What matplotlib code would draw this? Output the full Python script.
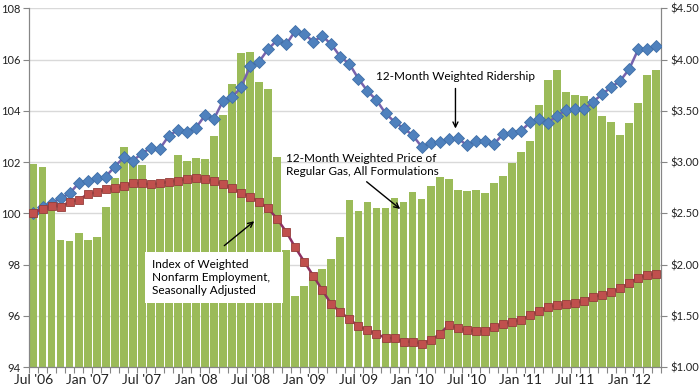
import numpy as np
import matplotlib.pyplot as plt
from matplotlib.patches import Rectangle

plt.rcParams['font.family'] = ['Lato', 'DejaVu Sans']

# monthly data, Jul 2006 .. Apr 2012
gas_price = [2.98, 2.95, 2.60, 2.24, 2.23, 2.31, 2.24, 2.27, 2.56, 2.84, 3.15, 3.03,
             2.97, 2.78, 2.78, 2.78, 3.07, 3.01, 3.04, 3.03, 3.25, 3.46, 3.76, 4.06,
             4.07, 3.78, 3.71, 3.05, 2.14, 1.69, 1.79, 1.88, 1.96, 2.05, 2.27, 2.63,
             2.52, 2.61, 2.55, 2.55, 2.65, 2.61, 2.71, 2.64, 2.77, 2.85, 2.83, 2.73,
             2.72, 2.73, 2.70, 2.80, 2.86, 2.99, 3.10, 3.21, 3.56, 3.80, 3.90, 3.68,
             3.65, 3.64, 3.62, 3.45, 3.39, 3.26, 3.38, 3.58, 3.85, 3.90]

ridership = [100.02, 100.25, 100.41, 100.58, 100.78, 101.17, 101.26, 101.37, 101.43, 101.82, 102.18, 102.05,
             102.33, 102.56, 102.52, 103.03, 103.25, 103.16, 103.34, 103.82, 103.69, 104.39, 104.53, 104.92,
             105.74, 105.92, 106.41, 106.76, 106.59, 107.12, 107.00, 106.70, 106.92, 106.59, 106.11, 105.83,
             105.25, 104.77, 104.42, 103.90, 103.57, 103.32, 103.05, 102.60, 102.73, 102.79, 102.89, 102.95,
             102.65, 102.83, 102.83, 102.69, 103.09, 103.14, 103.21, 103.55, 103.67, 103.53, 103.81, 104.03,
             104.06, 104.06, 104.35, 104.65, 104.92, 105.17, 105.63, 106.40, 106.40, 106.53]

employment = [100.02, 100.17, 100.30, 100.26, 100.45, 100.52, 100.75, 100.82, 100.93, 100.97, 101.08, 101.17,
              101.17, 101.13, 101.17, 101.23, 101.27, 101.34, 101.36, 101.33, 101.26, 101.13, 100.97, 100.80,
              100.65, 100.45, 100.19, 99.78, 99.28, 98.67, 98.11, 97.56, 97.00, 96.45, 96.15, 95.87,
              95.60, 95.44, 95.29, 95.14, 95.12, 94.99, 94.99, 94.92, 95.05, 95.29, 95.64, 95.51,
              95.44, 95.40, 95.40, 95.57, 95.67, 95.77, 95.83, 96.03, 96.18, 96.33, 96.42, 96.45,
              96.50, 96.58, 96.75, 96.81, 96.92, 97.07, 97.29, 97.49, 97.59, 97.63]

tick_labels = ["Jul '06", "Jan '07", "Jul '07", "Jan '08", "Jul '08", "Jan '09",
               "Jul '09", "Jan '10", "Jul '10", "Jan '11", "Jul '11", "Jan '12"]

x = np.arange(len(gas_price))

fig = plt.figure(figsize=(7, 3.86), dpi=100)
ax = fig.add_axes([0.0414, 0.049, 0.9026, 0.9295])
ax2 = ax.twinx()
ax.set_zorder(ax2.get_zorder() + 1)
ax.patch.set_visible(False)

# bars on right axis
ax2.bar(x, gas_price, width=0.86, color='#9BBB59', zorder=2)
ax2.set_ylim(1.0, 4.5)
ax2.set_yticks(np.arange(1.0, 4.51, 0.5))
ax2.set_yticklabels(['$%.2f' % v for v in np.arange(1.0, 4.51, 0.5)])
ax2.yaxis.grid(True, color='#D9D9D9', lw=1)
ax2.set_axisbelow(True)

# lines on left axis
ax.plot(x, ridership, color='#7763AD', lw=1.8, marker='D', ms=6,
        mfc='#4F81BD', mec='#3F6FA8', mew=0.6, zorder=3)
ax.plot(x, employment, color='#8E2F62', lw=1.8, marker='s', ms=5.5,
        mfc='#C0504D', mec='#943E3B', mew=0.6, zorder=3)
ax.set_ylim(94, 108)
ax.set_yticks(np.arange(94, 108.1, 2))
ax.set_xlim(-0.5, len(x) - 0.5)

ax.set_xticks(np.arange(-0.5, len(x), 1))
ax.set_xticklabels([])
ax.set_xticks(np.arange(0, len(x), 6), minor=True)
ax.set_xticklabels(tick_labels, minor=True)
ax.tick_params(axis='x', which='major', length=4, color='#868686')
ax.tick_params(axis='x', which='minor', length=0, pad=5)

for a in (ax, ax2):
    for s in a.spines.values():
        s.set_color('#868686')
    a.spines['top'].set_visible(False)
    a.tick_params(labelsize=8, labelcolor='#222222', colors='#868686')
ax.tick_params(axis='y', length=4, labelcolor='#222222', pad=2)
ax2.tick_params(axis='y', length=4, labelcolor='#222222', pad=3)
ax.tick_params(axis='x', which='minor', labelcolor='#222222')

# annotations
arrow = dict(arrowstyle='->', color='black', lw=1, mutation_scale=9)
ax.text(46.7, 105.32, '12-Month Weighted Ridership', ha='center', va='center', fontsize=8.5)
ax.annotate('', xy=(46.75, 103.2), xytext=(46.75, 104.98), arrowprops=arrow)

ax.text(28.0, 101.9, '12-Month Weighted Price of\nRegular Gas, All Formulations',
        ha='left', va='center', fontsize=8.5, linespacing=1.25)
ax.annotate('', xy=(40.87, 100.1), xytext=(36.67, 101.3), arrowprops=arrow)

ax.add_patch(Rectangle((12.33, 96.5), 15.27, 2.0, facecolor='white', edgecolor='none', zorder=4))
ax.text(13.18, 97.49, 'Index of Weighted\nNonfarm Employment,\nSeasonally Adjusted',
        ha='left', va='center', fontsize=8.5, linespacing=1.25, zorder=5)
ax.annotate('', xy=(24.69, 99.76), xytext=(20.9, 98.67), arrowprops=arrow)

fig.savefig('out.png', dpi=100, facecolor='white')
